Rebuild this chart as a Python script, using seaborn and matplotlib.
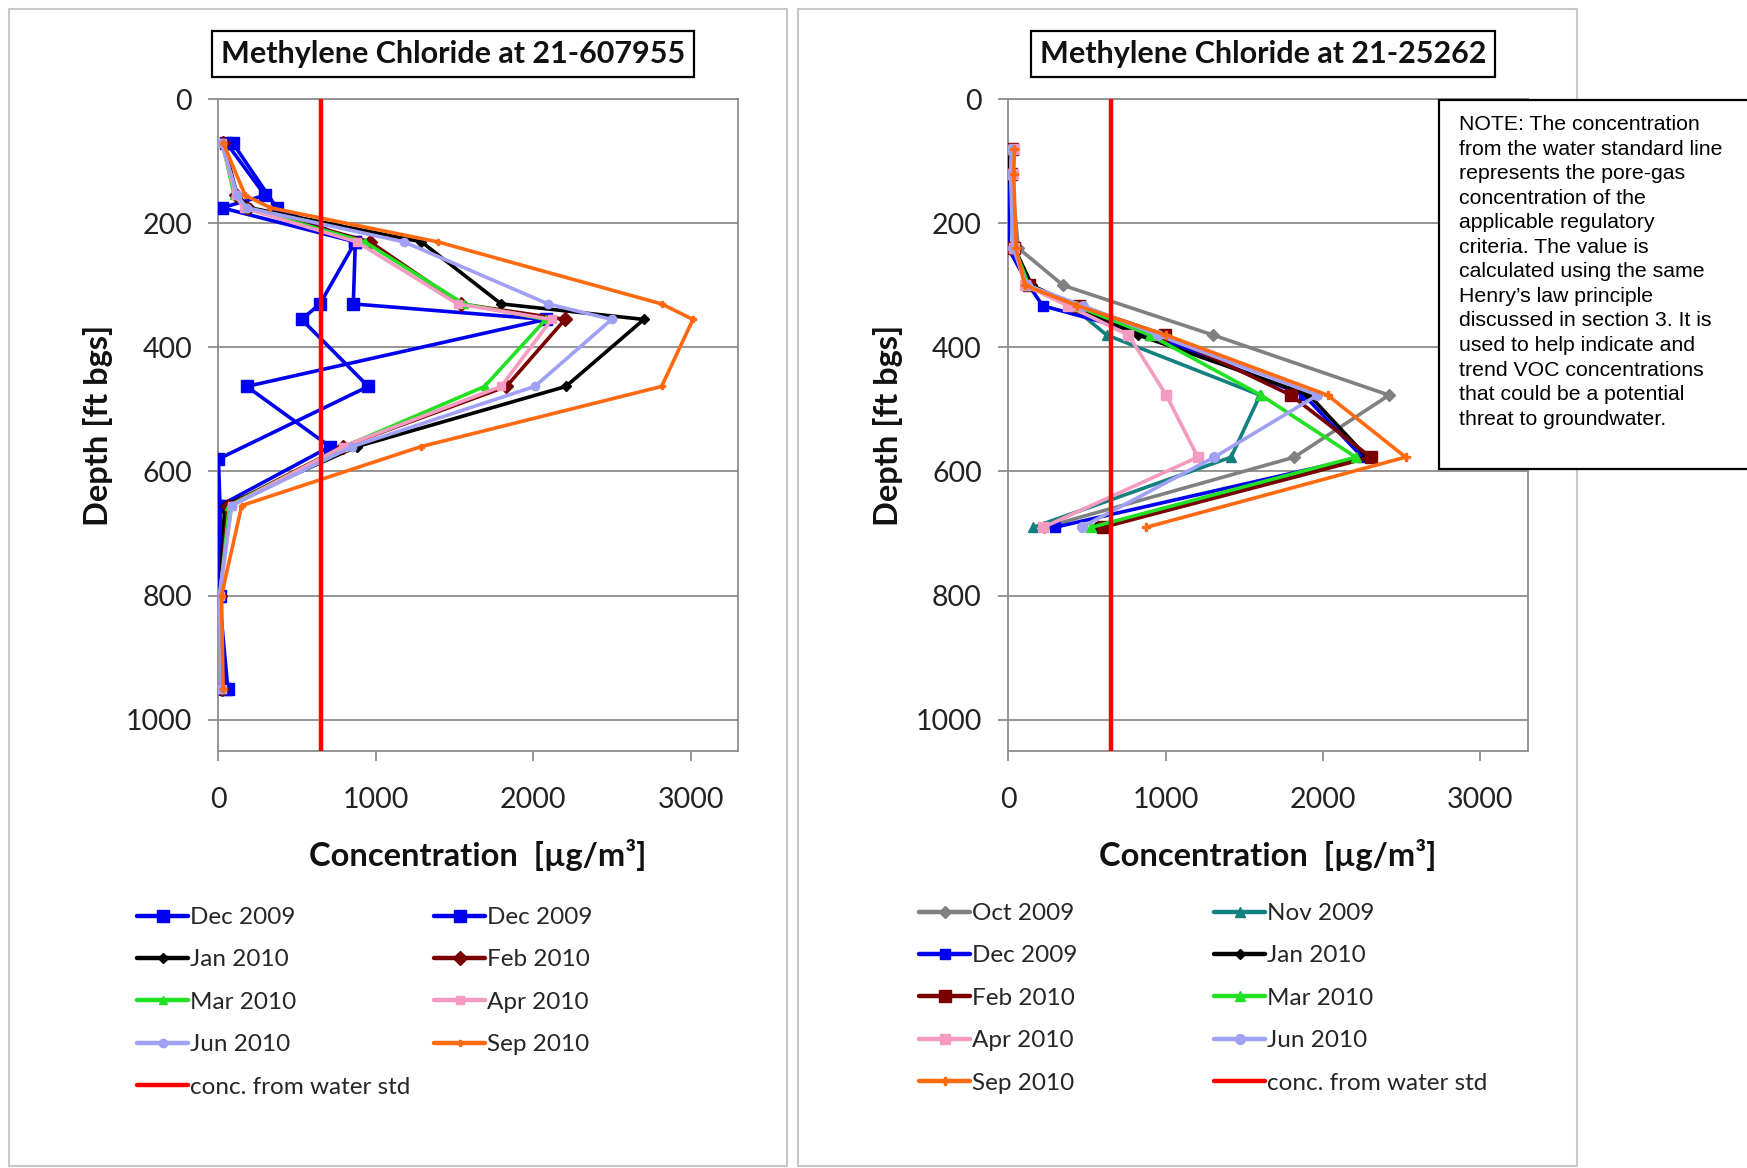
import numpy as np
import pandas as pd
import matplotlib
matplotlib.use("Agg")
import matplotlib.pyplot as plt
from matplotlib.patches import Rectangle
from matplotlib.lines import Line2D
from matplotlib.font_manager import FontProperties
import seaborn as sns

# ---------------- data: left chart (21-607955) ----------------
left_title = "Methylene Chloride at 21-607955"
left_depth = [70, 155, 175, 230, 330, 355, 463, 560, 655, 800, 950]
left_dec09a_depth = [70, 155, 175, 230, 330, 355, 463, 560, 655, 800, 950]
left_dec09a = [50, 296, 21, 870, 857, 2080, 180, 709, 10, 10, 40]
left_dec09b_depth = [70, 175, 230, 330, 355, 463, 580, 655, 800, 950]
left_dec09b = [90, 370, 870, 645, 529, 952, 0, 10, 5, 60]
left_jan10 = [30, 120, 200, 1290, 1797, 2703, 2208, 880, 40, 10, 20]
left_feb10 = [30, 110, 180, 963, 1540, 2202, 1830, 790, 60, 10, 20]
left_mar10 = [25, 100, 170, 930, 1560, 2080, 1691, 800, 70, 10, 20]
left_apr10 = [20, 110, 160, 879, 1520, 2117, 1797, 790, 84, 10, 20]
left_jun10 = [20, 120, 180, 1180, 2095, 2498, 2010, 850, 84, 5, 20]
left_sep10 = [30, 170, 330, 1394, 2816, 3015, 2816, 1287, 148, 20, 30]

# ---------------- data: right chart (21-25262) ----------------
right_title = "Methylene Chloride at 21-25262"
right_depth = [80, 120, 240, 300, 333, 380, 477, 577, 690]
right_oct09_depth = [80, 120, 240, 300, 380, 477, 577, 690]
right_oct09 = [30, 20, 64, 349, 1300, 2420, 1818, 230]
right_nov09 = [20, 15, 30, 150, 400, 625, 1600, 1416, 160]
right_dec09 = [10, 5, 0, 130, 220, 900, 1880, 2250, 297]
right_jan10 = [10, 10, 40, 150, 420, 825, 1913, 2280, 560]
right_feb10 = [25, 20, 40, 130, 450, 994, 1796, 2303, 603]
right_mar10 = [25, 20, 40, 130, 430, 900, 1606, 2208, 529]
right_apr10 = [35, 30, 40, 106, 380, 764, 1004, 1205, 223]
right_jun10 = [20, 15, 30, 120, 476, 950, 1965, 1310, 466]
right_sep10 = [40, 35, 50, 106, 440, 1000, 2029, 2525, 878]

water_std = 655  # conc. from water std
x_ticks = [0, 1000, 2000, 3000]
y_ticks = [0, 200, 400, 600, 800, 1000]
x_label = "Concentration  [\u00b5g/m\u00b3]"
y_label = "Depth [ft bgs]"
note_text = ("NOTE: The concentration\nfrom the water standard line\n"
             "represents the pore-gas\nconcentration of the\n"
             "applicable regulatory\ncriteria. The value is\n"
             "calculated using the same\nHenry\u2019s law principle\n"
             "discussed in section 3. It is\nused to help indicate and\n"
             "trend VOC concentrations\nthat could be a potential\n"
             "threat to groundwater.")

# ---------------- styles ----------------
C_BLUE = "#0000F0"
C_BLACK = "#000000"
C_BROWN = "#7A0000"
C_GREEN = "#22E022"
C_PINK = "#F59AC0"
C_LAV = "#A0A0F5"
C_ORANGE = "#FF6A10"
C_GRAY = "#808080"
C_TEAL = "#138080"
C_RED = "#FF0000"

left_series = [
    ("Dec 2009", left_dec09a_depth, left_dec09a, C_BLUE, "s", 8),
    ("Dec 2009", left_dec09b_depth, left_dec09b, C_BLUE, "s", 8),
    ("Jan 2010", left_depth, left_jan10, C_BLACK, "D", 5),
    ("Feb 2010", left_depth, left_feb10, C_BROWN, "D", 7),
    ("Mar 2010", left_depth, left_mar10, C_GREEN, "^", 6),
    ("Apr 2010", left_depth, left_apr10, C_PINK, "s", 6),
    ("Jun 2010", left_depth, left_jun10, C_LAV, "o", 6),
    ("Sep 2010", left_depth, left_sep10, C_ORANGE, "P", 5),
]
right_series = [
    ("Oct 2009", right_oct09_depth, right_oct09, C_GRAY, "D", 6),
    ("Nov 2009", right_depth, right_nov09, C_TEAL, "^", 7),
    ("Dec 2009", right_depth, right_dec09, C_BLUE, "s", 7),
    ("Jan 2010", right_depth, right_jan10, C_BLACK, "D", 5),
    ("Feb 2010", right_depth, right_feb10, C_BROWN, "s", 8),
    ("Mar 2010", right_depth, right_mar10, C_GREEN, "^", 7),
    ("Apr 2010", right_depth, right_apr10, C_PINK, "s", 7),
    ("Jun 2010", right_depth, right_jun10, C_LAV, "o", 7),
    ("Sep 2010", right_depth, right_sep10, C_ORANGE, "P", 6),
]

sns.set_theme(style="white")
plt.rcParams["font.family"] = ["Lato", "DejaVu Sans"]

W, H = 1747, 1168
fig = plt.figure(figsize=(W / 100, H / 100), dpi=100)
fig.patch.set_facecolor("white")

def fx(px):
    return px / W

def fy(py):
    return 1 - py / H

# panel frames
for x0, x1 in [(9, 787), (798, 1577)]:
    fig.add_artist(Rectangle((fx(x0), fy(1166)), fx(x1) - fx(x0), fy(9) - fy(1166),
                             transform=fig.transFigure, fill=False,
                             ec="#c8c8c8", lw=1.5, zorder=0))

GRID = "#8c8c8c"
legend_font = FontProperties(family=["Lato", "DejaVu Sans"], size=17.5)


def draw(ax, series, title, title_cx):
    for label, depths, vals, color, marker, ms in series:
        df = pd.DataFrame({"conc": vals, "depth": depths})
        sns.lineplot(data=df, x="conc", y="depth", sort=False, estimator=None,
                     color=color, marker=marker, markersize=ms,
                     markeredgecolor=color, markeredgewidth=1, lw=2.6,
                     ax=ax, legend=False, zorder=3)
    ax.axvline(water_std, color=C_RED, lw=3.2, zorder=4)
    ax.set_xlim(0, 3300)
    ax.set_ylim(1050, 0)
    ax.set_xticks(x_ticks)
    ax.set_yticks(y_ticks)
    ax.yaxis.grid(True, color=GRID, lw=1.3)
    ax.xaxis.grid(False)
    for sp in ax.spines.values():
        sp.set_visible(True)
        sp.set_color(GRID)
        sp.set_linewidth(1.3)
    ax.tick_params(axis="both", bottom=True, left=True, direction="out",
                   color=GRID, width=1.3, length=7, labelsize=20.5,
                   labelcolor="#222222")
    ax.tick_params(axis="x", pad=19)
    ax.tick_params(axis="y", pad=12)
    ax.set_xlabel(x_label, fontsize=23.5, fontweight="bold", labelpad=19,
                  color="#111111")
    ax.set_ylabel(y_label, fontsize=23.5, fontweight="bold", labelpad=9,
                  color="#111111")
    ax.set_facecolor("white")
    fig.text(fx(title_cx), fy(54), title, ha="center", va="center",
             fontsize=22, fontweight="bold", color="#111111",
             bbox=dict(boxstyle="square,pad=0.3", fc="white", ec="black", lw=1.6))


def handle(color, marker, ms):
    if marker is None:
        return Line2D([0], [0], color=color, lw=3.2)
    return Line2D([0], [0], color=color, lw=3.2, marker=marker, markersize=ms,
                  markeredgecolor=color)


def column_legend(entries, x_px, y_px):
    hs = [handle(c, m, s) for (_, c, m, s) in entries]
    ls = [e[0] for e in entries]
    fig.legend(hs, ls, loc="upper left", bbox_to_anchor=(fx(x_px), fy(y_px)),
               bbox_transform=fig.transFigure, frameon=False, prop=legend_font,
               handlelength=2.1, handletextpad=0.1, labelspacing=0.88,
               borderpad=0, borderaxespad=0)


ax_l = fig.add_axes([fx(218.4), fy(750.6), fx(519.4), fy(99.2) - fy(750.6)])
ax_r = fig.add_axes([fx(1008.2), fy(750.6), fx(519.4), fy(99.2) - fy(750.6)])

draw(ax_l, left_series, left_title, 453)
draw(ax_r, right_series, right_title, 1263)

RED_ENTRY = ("conc. from water std", C_RED, None, 0)
ls_ = [(s[0], s[3], s[4], s[5]) for s in left_series]
column_legend([ls_[0], ls_[2], ls_[4], ls_[6], RED_ENTRY], 137, 907)
column_legend([ls_[1], ls_[3], ls_[5], ls_[7]], 434, 907)
rs_ = [(s[0], s[3], s[4], s[5]) for s in right_series]
column_legend([rs_[0], rs_[2], rs_[4], rs_[6], rs_[8]], 919, 903)
column_legend([rs_[1], rs_[3], rs_[5], rs_[7], RED_ENTRY], 1214, 903)

# note box
fig.add_artist(Rectangle((fx(1439), fy(469)), fx(1760) - fx(1439), fy(100) - fy(469),
                         transform=fig.transFigure, fc="white", ec="black",
                         lw=1.6, zorder=5, clip_on=False))
fig.text(fx(1459), fy(115), note_text, ha="left", va="top",
         family=["Liberation Sans", "DejaVu Sans"], fontsize=15.3,
         linespacing=1.37, color="black", zorder=6)

fig.savefig("out.png", dpi=100, facecolor="white")
